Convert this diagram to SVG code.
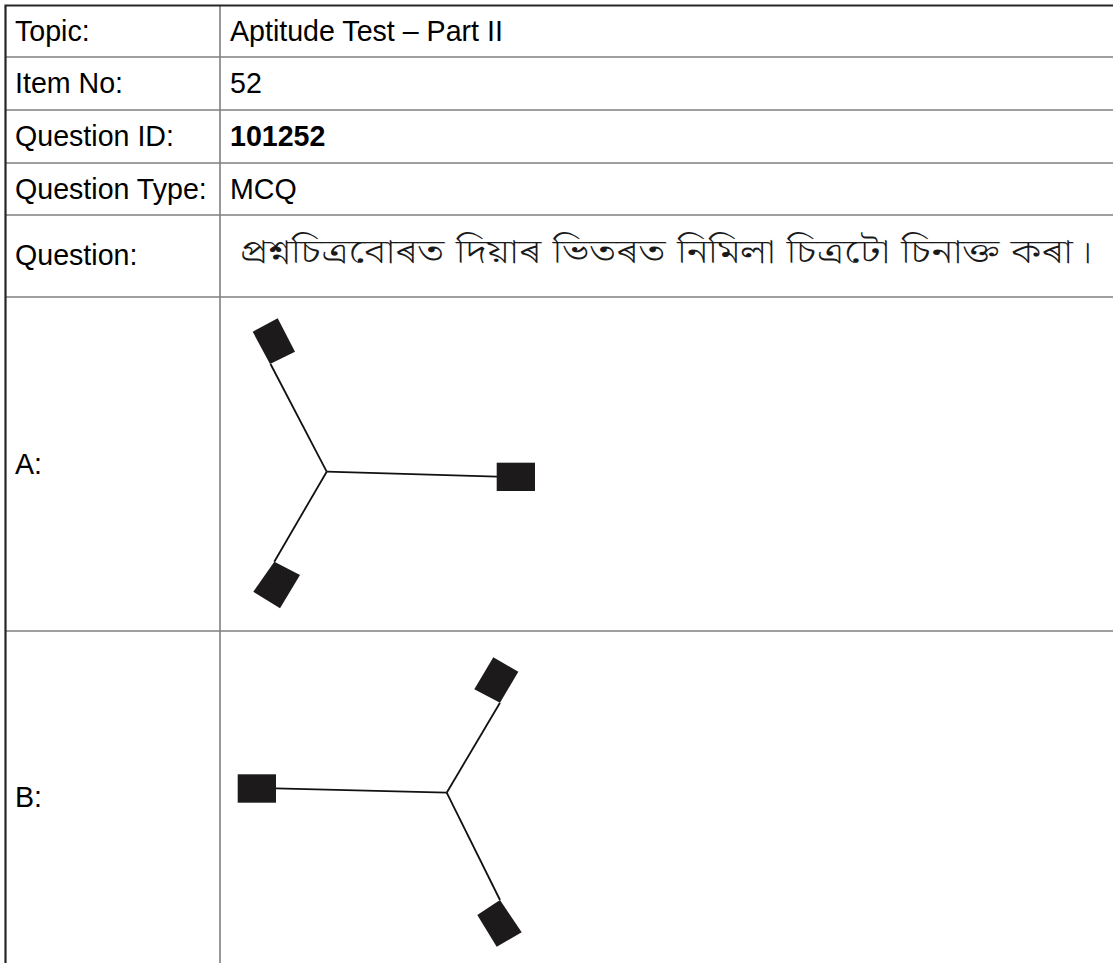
<svg xmlns="http://www.w3.org/2000/svg" width="1113" height="963" viewBox="0 0 1113 963">
<style>
.t{font-family:"Liberation Sans",Arial,sans-serif;font-size:28.6px;fill:#000}
.b{font-weight:bold}
.bn{font-family:"Noto Serif Bengali","Lohit Assamese","Lohit Bengali","Noto Sans Bengali","FreeSerif","Noto Sans",serif;font-size:33px;font-weight:300;fill:#1a1a1a}
.grid{stroke:#7f7f7f;stroke-width:1.6;fill:none}
.outer{stroke:#262626;stroke-width:2.2;fill:none}
.arm{stroke:#111;stroke-width:1.8;fill:none}
.blk{fill:#1c1a1a}
</style>
<rect width="1113" height="963" fill="#fff"/>
<g id="table">
<line class="grid" x1="220" y1="5" x2="220" y2="963"/>
<line class="grid" x1="5" y1="57" x2="1113" y2="57"/>
<line class="grid" x1="5" y1="110" x2="1113" y2="110"/>
<line class="grid" x1="5" y1="163" x2="1113" y2="163"/>
<line class="grid" x1="5" y1="215" x2="1113" y2="215"/>
<line class="grid" x1="5" y1="297" x2="1113" y2="297"/>
<line class="grid" x1="5" y1="631" x2="1113" y2="631"/>
<path class="outer" d="M5.5,963 V5.5 H1113"/>
</g>
<g id="labels">
<text class="t" x="15" y="40.5">Topic:</text>
<text class="t" x="230" y="40.5">Aptitude Test – Part II</text>
<text class="t" x="15" y="93">Item No:</text>
<text class="t" x="230" y="93">52</text>
<text class="t" x="15" y="146">Question ID:</text>
<text class="t b" x="230" y="146">101252</text>
<text class="t" x="15" y="198.5">Question Type:</text>
<text class="t" x="230" y="198.5">MCQ</text>
<text class="t" x="15" y="265">Question:</text>
<text class="bn" x="240" y="263" textLength="853" lengthAdjust="spacingAndGlyphs">প্ৰশ্নচিত্ৰবোৰত দিয়াৰ ভিতৰত নিমিলা চিত্ৰটো চিনাক্ত কৰা।</text>
<text class="t" x="15" y="474">A:</text>
<text class="t" x="15" y="806.5">B:</text>
</g>
<g id="figureA">
<g class="connectors">
<line class="arm" x1="326.7" y1="471.7" x2="270.5" y2="364"/>
<line class="arm" x1="326.7" y1="471.7" x2="497" y2="476.7"/>
<line class="arm" x1="326.7" y1="471.7" x2="274.3" y2="561.7"/>
</g>
<polygon class="blk" points="252.7,331.7 277.7,318.3 295,351.7 270,364"/>
<rect class="blk" x="496.7" y="462.7" width="38.3" height="28.3"/>
<polygon class="blk" points="274.3,561.7 300,575 280,608.3 253.3,591.7"/>
</g>
<g id="figureB">
<g class="connectors">
<line class="arm" x1="446.7" y1="792.7" x2="275.5" y2="788.3"/>
<line class="arm" x1="446.7" y1="792.7" x2="500" y2="702.7"/>
<line class="arm" x1="446.7" y1="792.7" x2="500" y2="900"/>
</g>
<rect class="blk" x="237.7" y="774.3" width="38.3" height="28.4"/>
<polygon class="blk" points="474.3,689.3 493.3,657.3 518.3,671.7 500,702.7"/>
<polygon class="blk" points="477.3,915 500,900 521.7,932.3 496.7,946.7"/>
</g>
</svg>
